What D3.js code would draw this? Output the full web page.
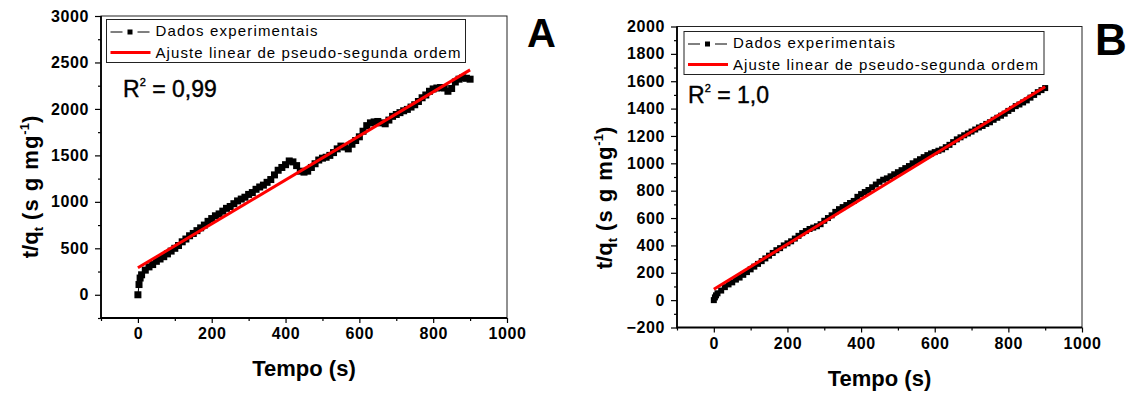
<!DOCTYPE html>
<html>
<head>
<meta charset="utf-8">
<title>t/q vs Tempo</title>
<script src="https://d3js.org/d3.v7.min.js"></script>
<style>
  body { margin: 0; background: #fff; }
  svg text { font-family: "Liberation Sans", Arial, sans-serif; }
</style>
</head>
<body>
<script>
const width = 1132, height = 397;

// tempo (s), shared by both runs
const tempo = [0, 3, 6, 10, 20, 30, 40, 50, 60, 70, 80, 90, 100, 110, 120, 130, 140, 150, 160, 170, 180, 190,
  200, 210, 220, 230, 240, 250, 260, 270, 280, 290, 300, 310, 320, 330, 340, 350, 360, 370, 380, 390,
  400, 410, 420, 430, 440, 450, 460, 470, 480, 490, 500, 510, 520, 530, 540, 550, 560, 570, 580, 590,
  600, 610, 620, 630, 640, 650, 660, 670, 680, 690, 700, 710, 720, 730, 740, 750, 760, 770, 780, 790,
  800, 810, 820, 830, 840, 850, 860, 870, 880, 890, 900];

// t/q (s g mg-1), panel A
const qA = [0, 110, 180, 215, 265, 300, 325, 360, 385, 410, 440, 470, 500, 530, 570, 600, 635, 660, 690, 720, 750, 790,
  820, 850, 870, 900, 930, 950, 980, 1010, 1030, 1050, 1080, 1100, 1135, 1160, 1180, 1210, 1240, 1290, 1340, 1370,
  1400, 1440, 1430, 1390, 1330, 1320, 1330, 1370, 1410, 1450, 1470, 1480, 1500, 1530, 1570, 1600, 1590, 1570, 1620, 1660,
  1700, 1760, 1820, 1850, 1860, 1865, 1850, 1840, 1880, 1920, 1940, 1960, 1980, 1995, 2020, 2045, 2080, 2120, 2150, 2190,
  2215, 2225, 2230, 2225, 2190, 2220, 2290, 2320, 2335, 2330, 2320];

// t/q (s g mg-1), panel B
const qB = [0, 20, 35, 50, 70, 95, 115, 130, 150, 165, 185, 205, 225, 245, 265, 285, 305, 325, 345, 365, 380, 400,
  415, 430, 450, 470, 490, 505, 520, 530, 540, 555, 580, 600, 620, 645, 665, 680, 695, 710, 725, 755,
  775, 790, 805, 825, 845, 865, 880, 890, 905, 920, 935, 950, 965, 980, 1000, 1015, 1030, 1045, 1060, 1072,
  1082, 1092, 1102, 1118, 1135, 1155, 1175, 1190, 1205, 1218, 1232, 1247, 1262, 1273, 1288, 1300, 1318, 1333, 1348, 1363,
  1383, 1398, 1418, 1430, 1445, 1460, 1480, 1500, 1520, 1535, 1550];

// linear pseudo-second-order fit, end points
const fitTempo = [0, 900];
const fitA = [290, 2420];
const fitB = [80, 1560];

const xMajor = [0, 200, 400, 600, 800, 1000];
const xMinor = [-100, 100, 300, 500, 700, 900];
const yMajorA = [0, 500, 1000, 1500, 2000, 2500, 3000];
const yMinorA = [-250, 250, 750, 1250, 1750, 2250, 2750];
const yMajorB = [-200, 0, 200, 400, 600, 800, 1000, 1200, 1400, 1600, 1800, 2000];
const yMinorB = [-100, 100, 300, 500, 700, 900, 1100, 1300, 1500, 1700, 1900];

const legendLabels = ["Dados experimentais", "Ajuste linear de pseudo-segunda ordem"];

const svg = d3.select("body").append("svg")
    .attr("width", width)
    .attr("height", height);

function drawPanel(o) {
    const g = svg.append("g");
    const x = d3.scaleLinear().domain([-100, 1000]).range([o.left, o.right]);
    const y = d3.scaleLinear().domain(o.yDom).range([o.bottom, o.top]);

    const styleTicks = sel => {
        sel.select(".domain").remove();
        sel.selectAll("line").attr("stroke", "#000").attr("stroke-width", 1.2);
        sel.selectAll("text")
            .attr("font-size", 16)
            .attr("font-weight", "bold")
            .attr("letter-spacing", "0.6px")
            .attr("fill", "#000")
            .style("font-family", '"Liberation Sans", Arial, sans-serif');
    };

    g.append("g").attr("transform", `translate(0,${o.bottom})`)
        .call(d3.axisBottom(x).tickValues(xMinor).tickSize(3).tickFormat(""))
        .call(styleTicks);
    g.append("g").attr("transform", `translate(0,${o.bottom})`)
        .call(d3.axisBottom(x).tickValues(xMajor).tickSize(5).tickPadding(5).tickFormat(d3.format("d")))
        .call(styleTicks);
    g.append("g").attr("transform", `translate(${o.left},0)`)
        .call(d3.axisLeft(y).tickValues(o.yMinor).tickSize(3).tickFormat(""))
        .call(styleTicks);
    g.append("g").attr("transform", `translate(${o.left},0)`)
        .call(d3.axisLeft(y).tickValues(o.yMajor).tickSize(6).tickPadding(6).tickFormat(d3.format("d")))
        .call(styleTicks);

    // frame
    g.append("rect")
        .attr("x", o.left).attr("y", o.top)
        .attr("width", o.right - o.left).attr("height", o.bottom - o.top)
        .attr("fill", "none").attr("stroke", "#222").attr("stroke-width", 1);
    g.append("path")
        .attr("d", `M${o.left},${o.top}V${o.bottom}H${o.right}`)
        .attr("fill", "none").attr("stroke", "#000").attr("stroke-width", 1.8);

    // experimental data
    const pts = tempo.map((t, i) => [t, o.q[i]]);
    g.append("path")
        .attr("d", d3.line().x(d => x(d[0])).y(d => y(d[1]))(pts))
        .attr("fill", "none").attr("stroke", "#000").attr("stroke-width", 1);
    g.selectAll("rect.pt")
        .data(pts).join("rect")
        .attr("class", "pt")
        .attr("x", d => x(d[0]) - o.ms / 2)
        .attr("y", d => y(d[1]) - o.ms / 2)
        .attr("width", o.ms).attr("height", o.ms)
        .attr("fill", "#000");

    // fit
    g.append("path")
        .attr("d", d3.line().x(d => x(d[0])).y(d => y(d[1]))(fitTempo.map((t, i) => [t, o.fit[i]])))
        .attr("fill", "none").attr("stroke", "#ff0000").attr("stroke-width", 3);

    // legend
    const lg = g.append("g").attr("transform", `translate(${o.lgX},${o.lgY})`);
    lg.append("rect")
        .attr("width", o.lgW).attr("height", 43)
        .attr("fill", "#fff").attr("stroke", "#222").attr("stroke-width", 1);
    lg.append("line").attr("x1", 4).attr("x2", 16).attr("y1", 12.5).attr("y2", 12.5)
        .attr("stroke", "#000").attr("stroke-width", 1);
    lg.append("line").attr("x1", 31).attr("x2", 43).attr("y1", 12.5).attr("y2", 12.5)
        .attr("stroke", "#000").attr("stroke-width", 1);
    lg.append("rect").attr("x", 21).attr("y", 10).attr("width", 5).attr("height", 5).attr("fill", "#000");
    lg.append("line").attr("x1", 4).attr("x2", 44).attr("y1", 33).attr("y2", 33)
        .attr("stroke", "#ff0000").attr("stroke-width", 3);
    lg.selectAll("text.lab")
        .data(legendLabels).join("text")
        .attr("class", "lab")
        .attr("x", 49)
        .attr("y", (d, i) => i === 0 ? 16.5 : 38)
        .attr("font-size", 15)
        .attr("textLength", (d, i) => i === 0 ? 162 : 305)
        .attr("lengthAdjust", "spacing")
        .attr("fill", "#000")
        .text(d => d);

    // R squared
    const r = g.append("text")
        .attr("x", o.rX).attr("y", o.rY)
        .attr("font-size", 23).attr("fill", "#000")
        .attr("stroke", "#000").attr("stroke-width", 0.4);
    r.append("tspan").text("R");
    r.append("tspan").attr("font-size", 11).attr("dy", -11).text("2");
    r.append("tspan").attr("dy", 11).text(" = " + o.r2);

    // axis titles
    g.append("text")
        .attr("x", (o.left + o.right) / 2).attr("y", o.bottom + 58)
        .attr("text-anchor", "middle")
        .attr("font-size", 22).attr("font-weight", "bold")
        .text("Tempo (s)");

    const yl = g.append("text")
        .attr("transform", `translate(${o.ylX},${o.ylY}) rotate(-90)`)
        .attr("text-anchor", "middle")
        .attr("font-size", 22).attr("font-weight", "bold");
    yl.append("tspan").text("t/q");
    yl.append("tspan").attr("font-size", 13).attr("dy", 5).text("t");
    yl.append("tspan").attr("dy", -5).attr("letter-spacing", "1px").text(" (s g mg");
    yl.append("tspan").attr("font-size", 13).attr("dy", -9).text("-1");
    yl.append("tspan").attr("dy", 9).text(")");

    g.append("text")
        .attr("x", o.tagX).attr("y", o.tagY)
        .attr("font-size", o.tagSize).attr("font-weight", "bold")
        .text(o.tag);
}

drawPanel({
    left: 101, right: 507, top: 16, bottom: 318,
    yDom: [-250, 3000], yMajor: yMajorA, yMinor: yMinorA,
    q: qA, fit: fitA, ms: 7,
    lgX: 106.5, lgY: 19.5, lgW: 359,
    rX: 123, rY: 97, r2: "0,99",
    ylX: 38, ylY: 187,
    tag: "A", tagX: 527, tagY: 47, tagSize: 40
});

drawPanel({
    left: 677, right: 1082, top: 26.5, bottom: 327.5,
    yDom: [-200, 2000], yMajor: yMajorB, yMinor: yMinorB,
    q: qB, fit: fitB, ms: 6,
    lgX: 684, lgY: 31.5, lgW: 360,
    rX: 688, rY: 103, r2: "1,0",
    ylX: 612, ylY: 198,
    tag: "B", tagX: 1095, tagY: 55, tagSize: 44
});
</script>
</body>
</html>
